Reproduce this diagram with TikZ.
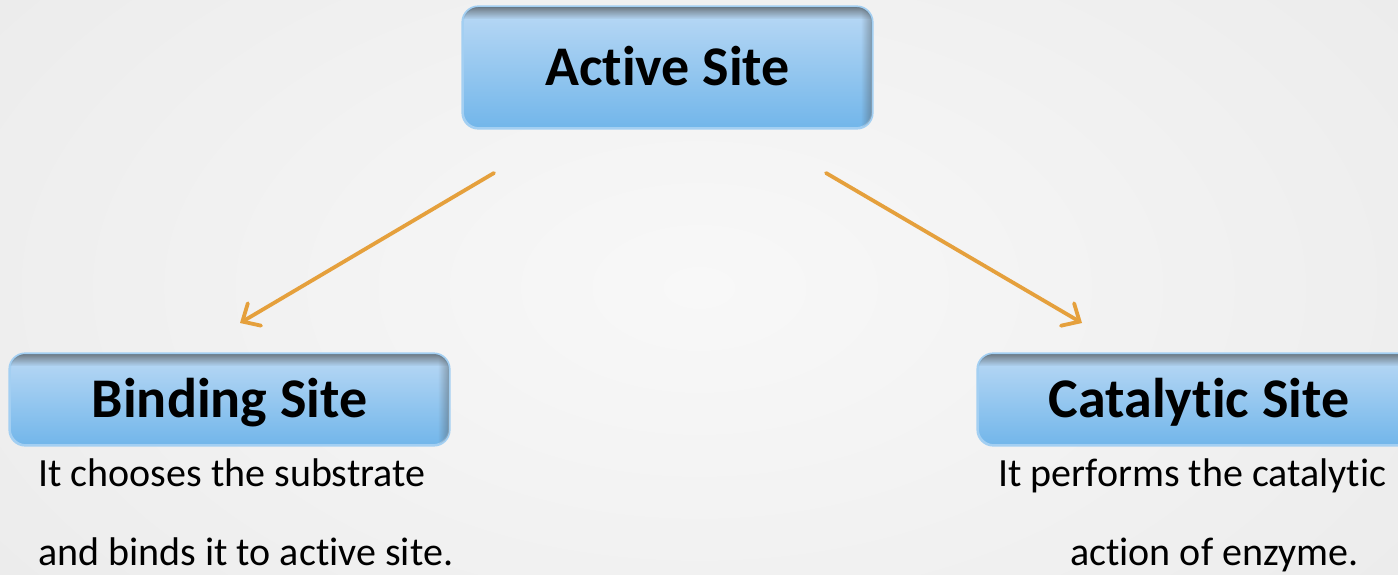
\documentclass[tikz,border=0pt]{standalone}
\usepackage{fontspec}
\setmainfont{Carlito}[RawFeature=-liga]
\usetikzlibrary{arrows.meta,fadings}
\definecolor{bgedge}{HTML}{EAEAEA}
\definecolor{bgmid}{HTML}{F8F8F8}
\definecolor{boxtop}{HTML}{BAD9F5}
\definecolor{boxbot}{HTML}{72B6EA}
\definecolor{boxline}{HTML}{A3CFF2}
\definecolor{arrowc}{HTML}{E5A03C}
\tikzfading[name=fadedown, top color=transparent!0, bottom color=transparent!100]
\tikzfading[name=fadeleft, right color=transparent!0, left color=transparent!100]
\tikzset{
  sitebox/.style={rectangle, rounded corners=16pt, top color=boxtop, bottom color=boxbot,
    draw=boxline, line width=1.6pt, inner sep=0pt,
    font=\fontsize{56}{60}\selectfont\bfseries, text height=36pt, text depth=0pt},
  desc/.style={anchor=base west, inner sep=0pt, font=\fontsize{40}{44}\selectfont},
  link/.style={draw=arrowc, line width=3.8pt, line cap=round,
    -{Straight Barb[length=14pt,width=26pt,line cap=round,line width=3.8pt]}},
}
\newcommand{\innershade}[1]{%
  \begin{scope}
    \clip[rounded corners=16pt] (#1.south west) rectangle (#1.north east);
    \fill[black!75, opacity=0.6, path fading=fadedown]
      ([yshift=-1pt]#1.north west) rectangle ([yshift=-13pt]#1.north east);
    \fill[black!70, opacity=0.45, path fading=fadeleft]
      ([xshift=-12pt]#1.north east) rectangle (#1.south east);
  \end{scope}
  \draw[boxline, line width=1.6pt, rounded corners=16pt] (#1.south west) rectangle (#1.north east);
}
\begin{document}
\begin{tikzpicture}[x=1pt,y=1pt]
  \clip (0,0) rectangle (1398,-575);
  \shade[inner color=bgmid, outer color=bgedge] (-300,300) rectangle (1698,-875);

  \node[sitebox, minimum width=409pt, minimum height=121pt] (active) at (667.5,-67.5) {Active Site};
  \node[sitebox, minimum width=439pt, minimum height=91pt] (binding) at (229.5,-399.5) {Binding Site};
  \node[sitebox, minimum width=442pt, minimum height=91pt] (catalytic) at (1199,-399.5) {Catalytic Site};
  \innershade{active}
  \innershade{binding}
  \innershade{catalytic}

  \node[desc] (b1) at (38,-486) {It chooses the substrate};
  \node[desc] (b2) at (38,-565) {and binds it to active site.};
  \node[desc] (c1) at (998,-486) {It performs the catalytic};
  \node[desc] (c2) at (1070,-565) {action of enzyme.};

  \coordinate (s1) at (494,-173);
  \coordinate (e1) at (240,-323);
  \coordinate (s2) at (826,-173);
  \coordinate (e2) at (1082,-323);
  \draw[link] (s1) -- (e1);
  \draw[link] (s2) -- (e2);
\end{tikzpicture}
\end{document}
